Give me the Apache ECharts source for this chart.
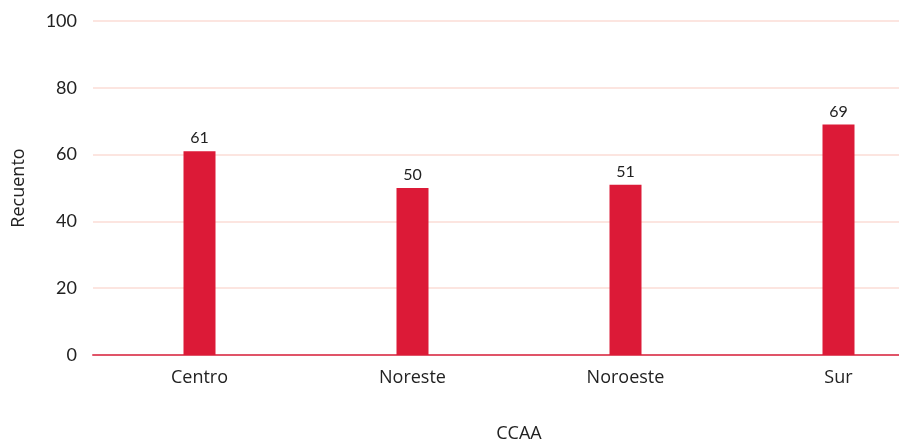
<!DOCTYPE html>
<html>
<head>
<meta charset="utf-8">
<script src="https://cdn.jsdelivr.net/npm/echarts@6/dist/echarts.min.js"></script>
<style>
  html, body { margin: 0; padding: 0; background: #fff; }
  #chart { width: 899px; height: 441px; }
</style>
</head>
<body>
<div id="chart"></div>
<script>
const categories = ['Centro', 'Noreste', 'Noroeste', 'Sur']
const counts = [61, 50, 51, 69]
const yTicks = { min: 0, max: 100, interval: 20 }

const myChart = echarts.init(document.getElementById('chart'), null, { renderer: 'canvas' })

myChart.setOption({
  animation: false,
  grid: { left: 93, right: -46, top: 21, bottom: 86, outerBoundsMode: 'none', containLabel: false },
  xAxis: {
    type: 'category',
    data: categories,
    name: 'CCAA',
    nameLocation: 'middle',
    nameGap: 70,
    nameTextStyle: { color: '#222', fontFamily: 'Open Sans', fontSize: 18 },
    axisTick: { show: false },
    axisLine: { lineStyle: { color: '#e05468', width: 2 } },
    axisLabel: { color: '#222', fontFamily: 'Open Sans', fontSize: 18, margin: 14 },
  },
  yAxis: {
    type: 'value',
    min: yTicks.min,
    max: yTicks.max,
    interval: yTicks.interval,
    name: 'Recuento',
    nameLocation: 'middle',
    nameGap: 65,
    nameTextStyle: { color: '#222', fontFamily: 'Open Sans', fontSize: 18 },
    axisLine: { show: false },
    axisTick: { show: false },
    axisLabel: { color: '#222', fontFamily: 'Lato', fontSize: 18, margin: 16 },
    splitLine: { lineStyle: { color: '#fbddd6', width: 1.5 } },
  },
  series: [
    {
      type: 'bar',
      data: counts,
      barWidth: 32,
      itemStyle: { color: '#dc1a37' },
      label: {
        show: true,
        position: 'top',
        distance: 5,
        color: '#222',
        fontFamily: 'Lato',
        fontSize: 16,
      },
    },
  ],
})
</script>
</body>
</html>
